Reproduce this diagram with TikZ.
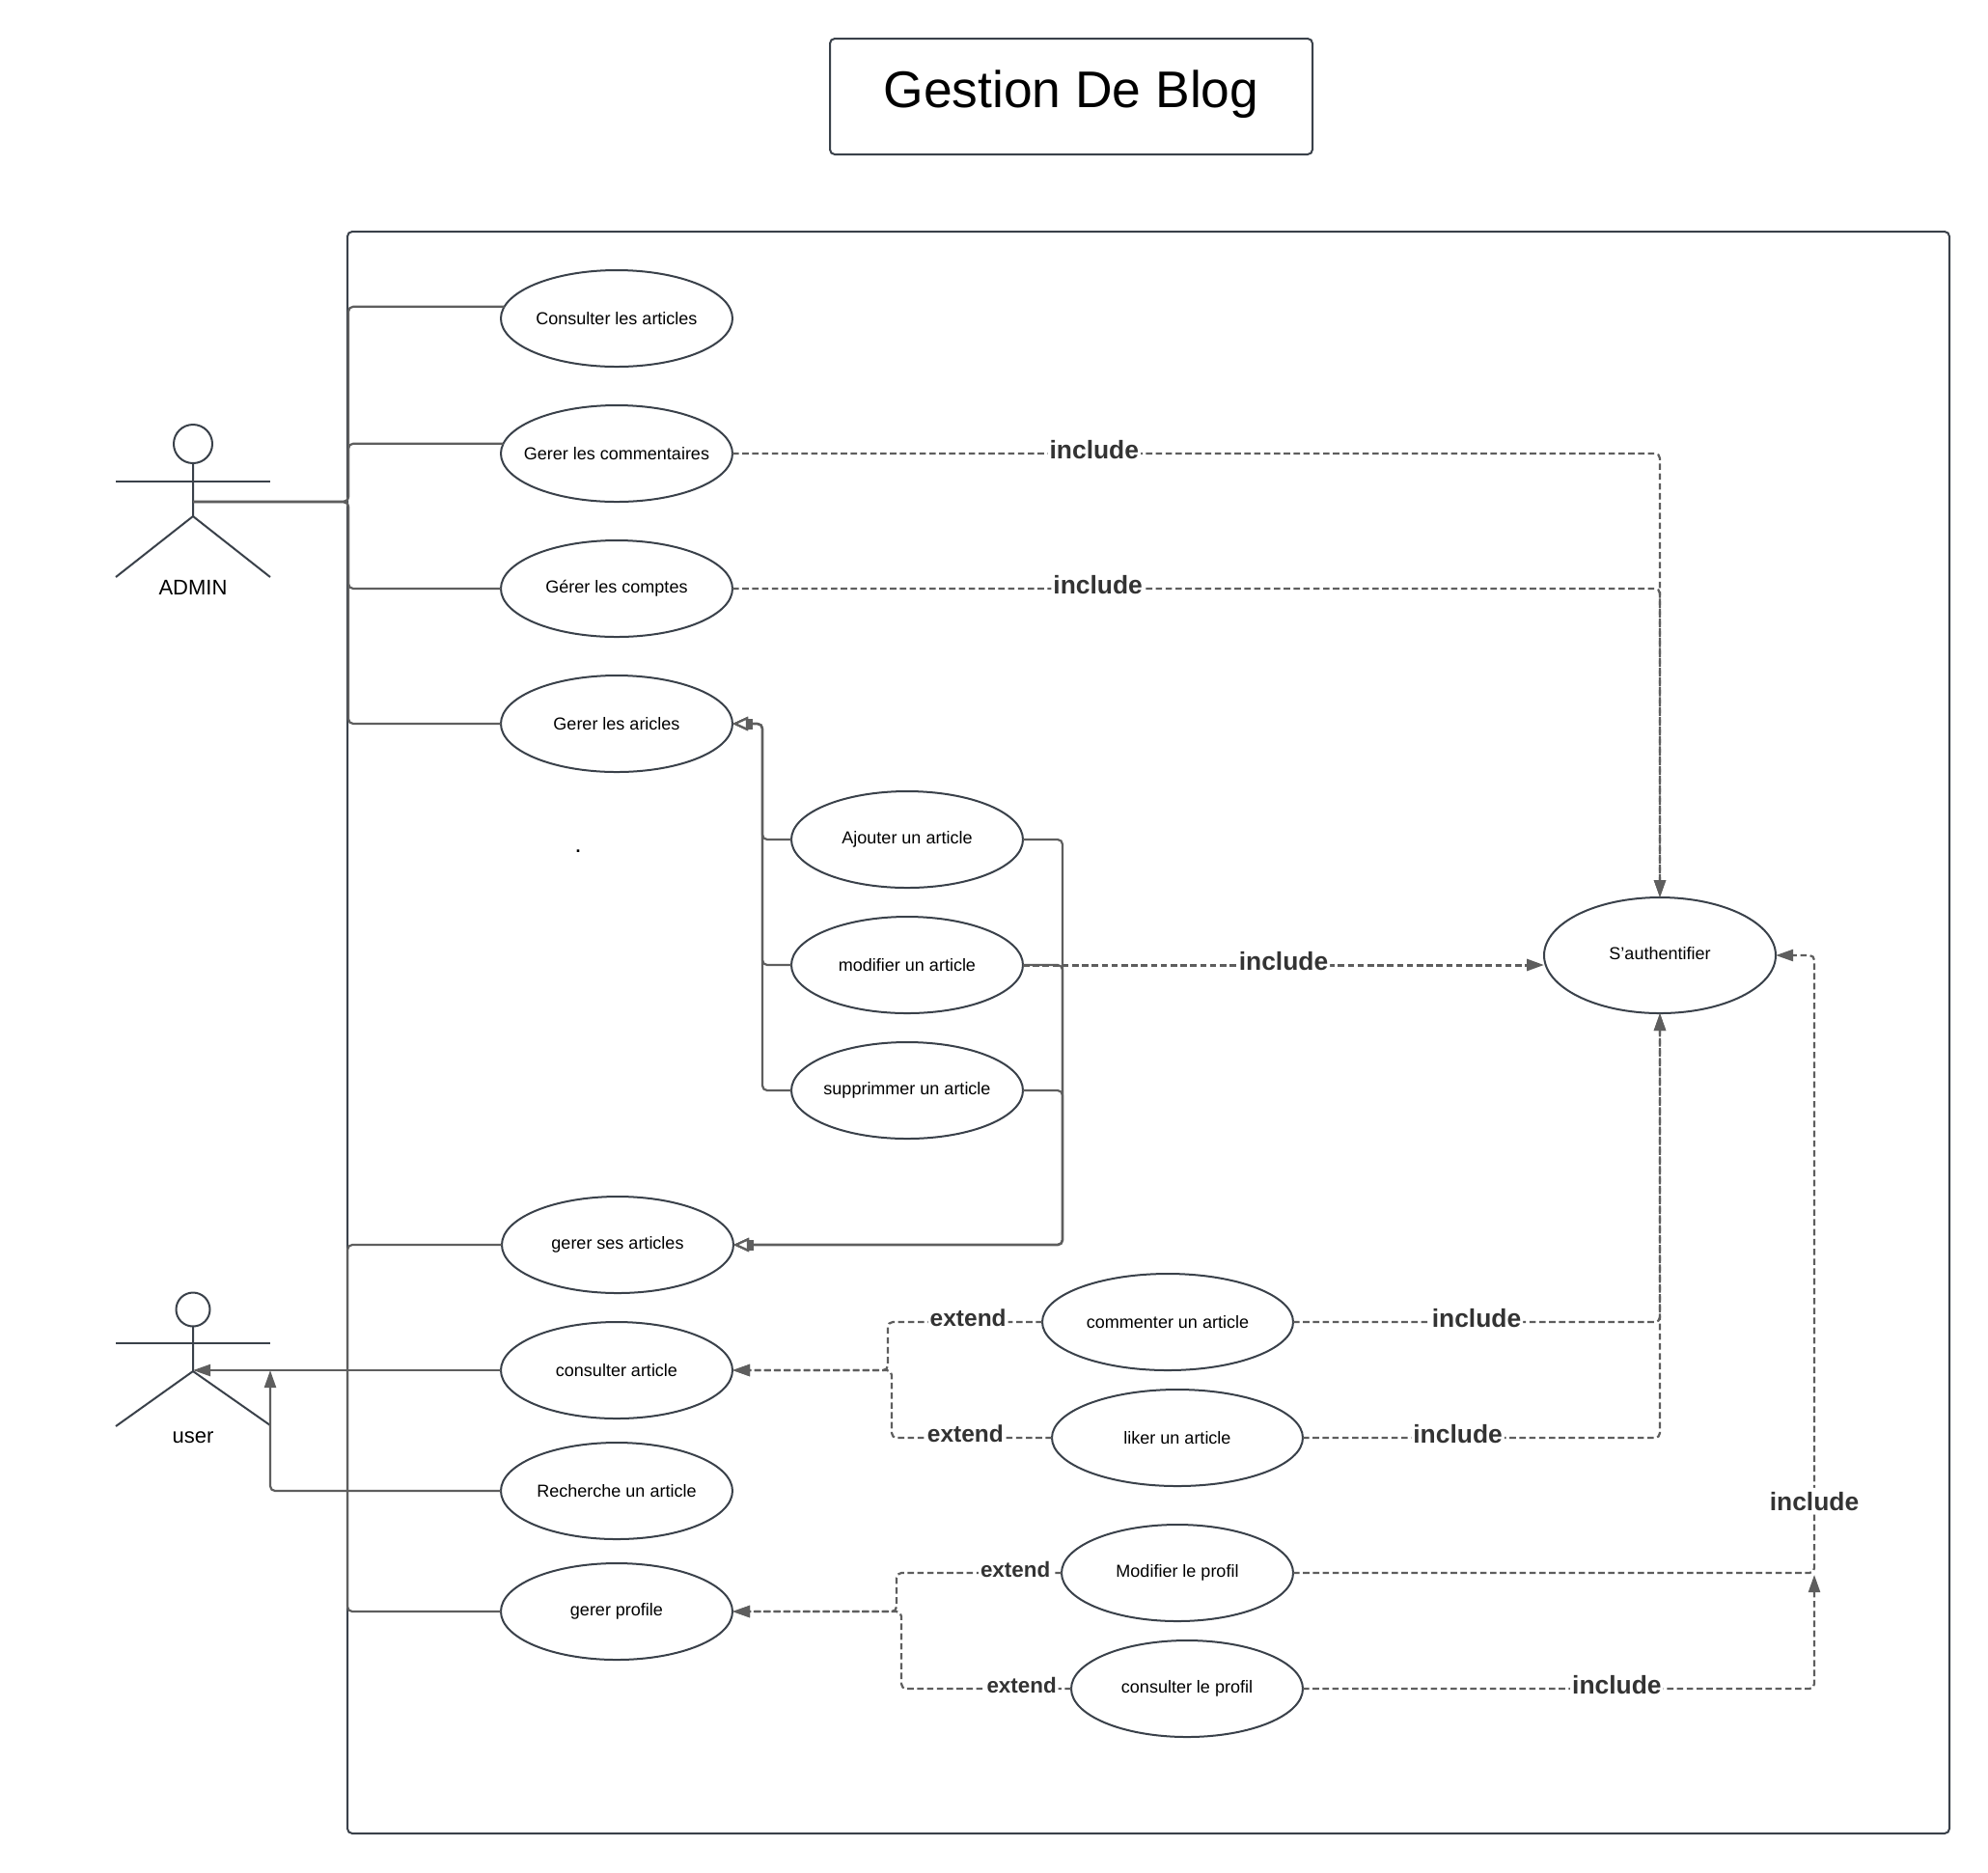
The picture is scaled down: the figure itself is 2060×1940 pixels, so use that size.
\documentclass[tikz,border=0pt]{standalone}
\usepackage{fontspec}
\setmainfont{Liberation Sans}
\usepackage{xcolor}
\usetikzlibrary{arrows.meta,shapes.geometric}
\definecolor{outlinecolor}{HTML}{3A414A}
\definecolor{linkcolor}{HTML}{5E5E5E}
\definecolor{labelcolor}{HTML}{333333}
\tikzstyle{framebox} =[
    draw=outlinecolor,
    line width=1pt,
    rounded corners=2.5pt
    ]
\tikzstyle{usecase} =[
    draw=outlinecolor,
    fill=white,
    line width=1pt,
    ellipse,
    inner xsep=-8pt,
    inner ysep=0pt,
    outer sep=0pt,
    minimum width=120pt,
    minimum height=50pt,
    font=\fontsize{9}{11}\selectfont
    ]
\tikzstyle{stick} =[
    draw=outlinecolor,
    line width=1pt
    ]
\tikzstyle{actorname} =[
    inner sep=0pt,
    font=\fontsize{11}{13}\selectfont
    ]
\tikzstyle{assoc} =[
    draw=linkcolor,
    line width=1.1pt,
    rounded corners=2.5pt
    ]
\tikzstyle{assocarrow} =[
    assoc,
    -{Triangle[length=9pt,width=6pt]},
    linkcolor
    ]
\tikzstyle{general} =[
    assoc,
    -{Rectangle[length=2.5pt,width=5.5pt]Triangle[open,fill=white,length=8pt,width=7pt]}
    ]
\tikzstyle{dashlink} =[
    assoc,
    dash pattern=on 3.3pt off 1.8pt,
    -{Triangle[length=9pt,width=6pt]}
    ]
\tikzstyle{inclabel} =[
    fill=white,
    text=labelcolor,
    inner xsep=1pt,
    inner ysep=2pt,
    yshift=2pt,
    font=\fontsize{13.2}{15}\selectfont\bfseries
    ]
\tikzstyle{extlabel} =[
    inclabel,
    font=\fontsize{12.25}{15}\selectfont\bfseries
    ]
\tikzstyle{extsmall} =[
    inclabel,
    font=\fontsize{11.2}{15}\selectfont\bfseries
    ]

\begin{document}
\begin{tikzpicture}[x=0.5pt,y=-0.5pt]
\useasboundingbox (0,0) rectangle (2060,1940);

% title and system frame
\draw[framebox] (860,40) rectangle (1360,160);
\node[inner sep=0pt,font=\fontsize{26.7}{30}\selectfont] (title) at (1110,98) {Gestion De Blog};
\draw[framebox] (360,240) rectangle (2020,1900);

% use cases
\node[usecase] (consulter) at (639,330) {Consulter les articles};
\node[usecase] (commentaires) at (639,470) {Gerer les commentaires};
\node[usecase] (comptes) at (639,610) {Gérer les comptes};
\node[usecase] (aricles) at (639,750) {Gerer les aricles};
\node[usecase] (ajouter) at (940,870) {Ajouter un article};
\node[usecase] (modifier) at (940,1000) {modifier un article};
\node[usecase] (supprimer) at (940,1130) {supprimmer un article};
\node[usecase] (sesarticles) at (640,1290) {gerer ses articles};
\node[usecase] (consart) at (639,1420) {consulter article};
\node[usecase] (recherche) at (639,1545) {Recherche un article};
\node[usecase] (profile) at (639,1670) {gerer profile};
\node[usecase,minimum width=130pt] (commenter) at (1210,1370) {commenter un article};
\node[usecase,minimum width=130pt] (liker) at (1220,1490) {liker un article};
\node[usecase] (modprofil) at (1220,1630) {Modifier le profil};
\node[usecase] (consprofil) at (1230,1750) {consulter le profil};
\node[usecase,minimum height=60pt] (sauth) at (1720,990) {\raisebox{1.7pt}{S'authentifier}};
\node[inner sep=0pt,font=\fontsize{9}{11}\bfseries] (point) at (599,882) {.};

% actors
\node[stick,circle,inner sep=0pt,outer sep=0pt,minimum size=20pt] (adminhead) at (200,460) {};
\coordinate (adminhip) at (200,535);
\coordinate (adminwaist) at (200,520);
\draw[stick] (adminhead.south) -- (adminhip) -- (120,598);
\draw[stick] (adminhip) -- (280,598);
\draw[stick] (120,499) -- (280,499);
\node[actorname] (adminname) at (200,609) {ADMIN};

\node[stick,circle,inner sep=0pt,outer sep=0pt,minimum size=17.5pt] (userhead) at (200,1357) {};
\coordinate (userhip) at (200,1421);
\coordinate (userknee) at (280,1477);
\draw[stick] (userhead.south) -- (userhip) -- (120,1478);
\draw[stick] (userhip) -- (userknee);
\draw[stick] (120,1392) -- (280,1392);
\node[actorname] (username) at (200,1490) {user};

% actor links
\coordinate (admintrunk) at (361,520);
\coordinate (usertrunk) at (360,1420);
\draw[assoc] (adminwaist) -- (admintrunk) |- (consulter.174);
\draw[assoc] (adminwaist) -- (admintrunk) |- (commentaires.175);
\draw[assoc] (adminwaist) -- (admintrunk) |- (comptes.west);
\draw[assoc] (adminwaist) -- (admintrunk) |- (aricles.west);
\draw[assoc] (sesarticles.west) -| (usertrunk);
\draw[assoc] (profile.west) -| (usertrunk);
\draw[assocarrow] (consart.west) -- (userhip |- consart.west);
\draw[assocarrow] (recherche.west) -| (userknee |- consart.west);

% generalisation
\coordinate (genleft) at (790,750);
\coordinate (genright) at (1101,1290);
\draw[general] (ajouter.west) -| (genleft) -- (aricles.east);
\draw[general] (modifier.west) -| (genleft) -- (aricles.east);
\draw[general] (supprimer.west) -| (genleft) -- (aricles.east);
\draw[general] (ajouter.east) -| (genright) -- (sesarticles.east);
\draw[general] (modifier.east) -| (genright) -- (sesarticles.east);
\draw[general] (supprimer.east) -| (genright) -- (sesarticles.east);

% include
\coordinate (backcorner) at (1880,990);
\coordinate (backtip) at (1880,1632);
\draw[dashlink] (commentaires.east) -| node[inclabel,pos=.195] (inclA) {include} (sauth.north);
\draw[dashlink] (comptes.east) -| node[inclabel,pos=.197] (inclB) {include} (sauth.north);
\draw[dashlink,line width=1.5pt] (modifier.east) -- node[inclabel] (inclC) {include} (modifier.east -| sauth.west);
\draw[dashlink] (commenter.east) -| node[inclabel,pos=.25] (inclD) {include} (sauth.south);
\draw[dashlink] (liker.east) -| node[inclabel,pos=.217] (inclE) {include} (sauth.south);
\draw[dashlink] (modprofil.east) -| node[inclabel,pos=.555] (inclF) {include} (backcorner) -- (sauth.east);
\draw[dashlink] (consprofil.east) -| node[inclabel,pos=.307] (inclG) {include} (backtip);

% extend
\coordinate (extA) at (920,1420);
\coordinate (extB) at (924,1420);
\coordinate (extC) at (929,1670);
\coordinate (extD) at (934,1670);
\draw[dashlink] (commenter.west) -| node[extlabel,pos=.24] (extlA) {extend} (extA) -- (consart.east);
\draw[dashlink] (liker.west) -| node[extlabel,pos=.27] (extlB) {extend} (extB) -- (consart.east);
\draw[dashlink] (modprofil.west) -| node[extsmall,pos=.14] (extlC) {extend} (extC) -- (profile.east);
\draw[dashlink] (consprofil.west) -| node[extsmall,pos=.146] (extlD) {extend} (extD) -- (profile.east);
\end{tikzpicture}
\end{document}
